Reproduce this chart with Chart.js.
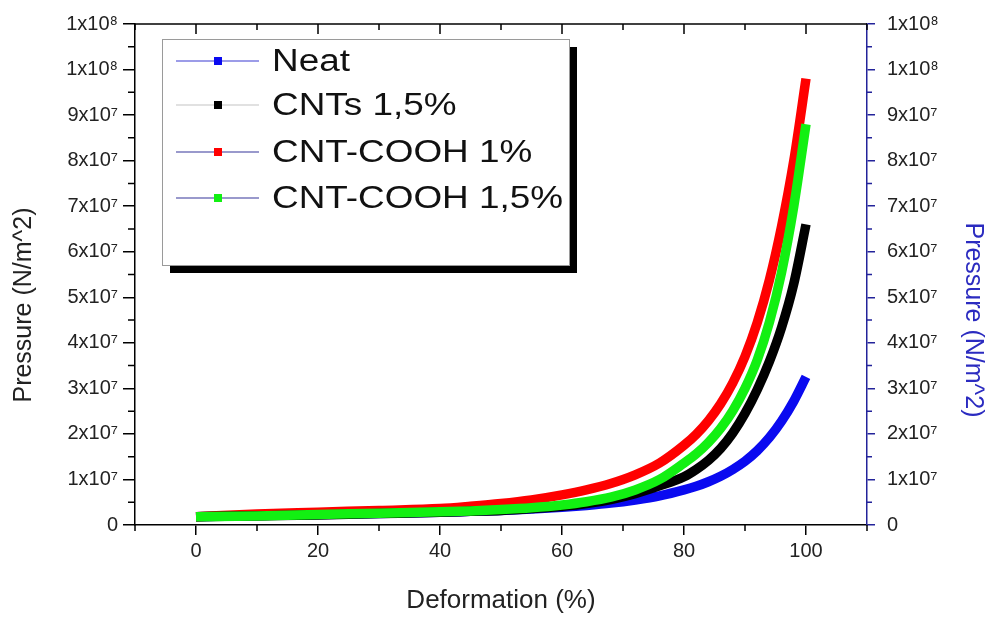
<!DOCTYPE html>
<html><head><meta charset="utf-8">
<script src="https://cdn.jsdelivr.net/npm/chart.js@4.4.1/dist/chart.umd.min.js"></script>
<style>html,body{margin:0;padding:0;background:#fff}canvas{display:block}</style>
</head><body>
<canvas id="c" width="988" height="619"></canvas>
<script>
// ---- data ----
const deformation = [0,10,20,30,40,45,50,55,60,64,68,72,76,80,82,84,86,88,90,92,94,96,98,100];
const neat   = [1.8e6,2.1e6,2.3e6,2.5e6,2.8e6,3.0e6,3.2e6,3.5e6,3.9e6,4.3e6,4.8e6,5.5e6,6.4e6,7.7e6,8.5e6,9.5e6,1.07e7,1.22e7,1.40e7,1.63e7,1.92e7,2.28e7,2.72e7,3.25e7];
const cnts15 = [1.8e6,2.0e6,2.2e6,2.5e6,2.8e6,3.0e6,3.2e6,3.6e6,4.1e6,4.7e6,5.6e6,6.9e6,8.6e6,1.06e7,1.22e7,1.42e7,1.68e7,2.02e7,2.45e7,2.97e7,3.59e7,4.34e7,5.30e7,6.60e7];
const cooh1  = [1.8e6,2.4e6,2.8e6,3.2e6,3.6e6,4.1e6,4.7e6,5.5e6,6.6e6,7.7e6,9.1e6,1.10e7,1.36e7,1.75e7,1.99e7,2.29e7,2.66e7,3.12e7,3.70e7,4.44e7,5.38e7,6.56e7,8.00e7,9.80e7];
const cooh15 = [1.8e6,2.0e6,2.3e6,2.6e6,2.9e6,3.1e6,3.4e6,3.8e6,4.4e6,5.1e6,6.1e6,7.7e6,1.00e7,1.36e7,1.56e7,1.81e7,2.12e7,2.51e7,3.00e7,3.62e7,4.45e7,5.55e7,7.00e7,8.80e7];
const seriesLabels = ['Neat','CNTs 1,5%','CNT-COOH 1%','CNT-COOH 1,5%'];
const seriesColors = ['#0a0af0','#000000','#ff0000','#12f012'];
const legendLineColors = ['#3a3ad2','#c4c4c4','#34349a','#34349a'];
const drawOrder = [3,1,2,0];

const xTickValues = [0,20,40,60,80,100];
const xTickLabels = ['0','20','40','60','80','100'];
const xMinorTicks = [-10,10,30,50,70,90,110];
const yTickValues = [0,1e7,2e7,3e7,4e7,5e7,6e7,7e7,8e7,9e7,1e8,1.1e8];
const yTickLabels = ['0','1x10⁷','2x10⁷','3x10⁷','4x10⁷','5x10⁷','6x10⁷','7x10⁷','8x10⁷','9x10⁷','1x10⁸','1x10⁸'];
const yMinorTicks = [5e6,1.5e7,2.5e7,3.5e7,4.5e7,5.5e7,6.5e7,7.5e7,8.5e7,9.5e7,1.05e8];
const xTitle = 'Deformation (%)';
const yTitle = 'Pressure (N/m^2)';

const FONT = "'Liberation Sans', Arial, sans-serif";
const NAVY = '#23239a';

const allSeries = [neat, cnts15, cooh1, cooh15];
const datasets = allSeries.map((arr, i) => ({
  label: seriesLabels[i],
  data: deformation.map((x, j) => ({x: x, y: arr[j]})),
  borderColor: seriesColors[i],
  backgroundColor: seriesColors[i],
  borderWidth: 9.5,
  borderCapStyle: 'butt',
  borderJoinStyle: 'round',
  pointRadius: 0,
  cubicInterpolationMode: 'monotone',
  fill: false,
  order: drawOrder[i],
  yAxisID: 'y'
}));

const labelFor = (vals, labs) => (v) => { const k = vals.indexOf(v); return k >= 0 ? labs[k] : ''; };

const decor = {
  id: 'decor',
  afterDraw(chart) {
    const {ctx, chartArea: a, scales: {x, y}} = chart;
    ctx.save();
    // top frame line + inward ticks
    ctx.strokeStyle = '#000'; ctx.lineWidth = 1.5;
    ctx.beginPath(); ctx.moveTo(a.left, a.top); ctx.lineTo(a.right, a.top); ctx.stroke();
    ctx.beginPath();
    xTickValues.forEach(v => { const px = x.getPixelForValue(v); ctx.moveTo(px, a.top); ctx.lineTo(px, a.top + 10); });
    xMinorTicks.forEach(v => { const px = x.getPixelForValue(v); ctx.moveTo(px, a.top); ctx.lineTo(px, a.top + 6); });
    // bottom minor ticks
    xMinorTicks.forEach(v => { const px = x.getPixelForValue(v); ctx.moveTo(px, a.bottom); ctx.lineTo(px, a.bottom + 6); });
    // left minor ticks
    yMinorTicks.forEach(v => { const py = y.getPixelForValue(v); ctx.moveTo(a.left, py); ctx.lineTo(a.left - 7, py); });
    ctx.stroke();
    // right minor ticks
    ctx.strokeStyle = NAVY;
    ctx.beginPath();
    yMinorTicks.forEach(v => { const py = y.getPixelForValue(v); ctx.moveTo(a.right, py); ctx.lineTo(a.right + 5, py); });
    ctx.stroke();

    // y titles
    ctx.font = '25px ' + FONT;
    ctx.textAlign = 'center'; ctx.textBaseline = 'middle';
    ctx.fillStyle = '#222';
    ctx.save(); ctx.translate(24, 305); ctx.rotate(-Math.PI / 2); ctx.fillText(yTitle, 0, 0); ctx.restore();
    ctx.fillStyle = '#2b2bc0';
    ctx.save(); ctx.translate(973, 320); ctx.rotate(Math.PI / 2); ctx.fillText(yTitle, 0, 0); ctx.restore();

    // legend box
    const L = a.left + 27, T = a.top + 15, W = 407, H = 226;
    ctx.fillStyle = '#000';
    ctx.fillRect(L + 8, T + 8, W, H);
    ctx.fillStyle = '#fff';
    ctx.fillRect(L, T, W, H);
    ctx.strokeStyle = '#9a9a9a'; ctx.lineWidth = 1;
    ctx.strokeRect(L + 0.5, T + 0.5, W, H);
    const rowY = [22, 66, 113, 159];
    chart.data.datasets.forEach((ds, i) => {
      const cy = T + rowY[i];
      ctx.strokeStyle = legendLineColors[i]; ctx.lineWidth = 1.2;
      ctx.beginPath(); ctx.moveTo(L + 14, cy); ctx.lineTo(L + 97, cy); ctx.stroke();
      ctx.fillStyle = ds.borderColor;
      ctx.fillRect(L + 52, cy - 4, 8, 8);
      ctx.fillStyle = '#111';
      ctx.font = '31px ' + FONT;
      ctx.textAlign = 'left'; ctx.textBaseline = 'middle';
      ctx.save(); ctx.translate(L + 110, cy + 1); ctx.scale(1.19, 1); ctx.fillText(ds.label, 0, 0); ctx.restore();
    });
    ctx.restore();
  }
};

new Chart(document.getElementById('c'), {
  type: 'line',
  data: { datasets: datasets },
  options: {
    responsive: false,
    animation: false,
    layout: { padding: { top: 22, left: 0, right: 0, bottom: 0 } },
    plugins: { legend: { display: false }, tooltip: { enabled: false } },
    scales: {
      x: {
        type: 'linear', min: -10, max: 110,
        afterBuildTicks: s => { s.ticks = xTickValues.map(v => ({value: v})); },
        ticks: { callback: labelFor(xTickValues, xTickLabels), font: { family: FONT, size: 20 }, color: '#222', padding: 4, maxRotation: 0, autoSkip: false },
        grid: { drawOnChartArea: false, drawTicks: true, tickLength: 10, color: '#000', lineWidth: 1.5 },
        border: { display: true, color: '#000', width: 1.5 },
        title: { display: true, text: xTitle, font: { family: FONT, size: 26 }, color: '#222', padding: { top: 0, bottom: 3 } },
        afterFit: s => { s.height = 94; }
      },
      y: {
        type: 'linear', position: 'left', min: 0, max: 1.1e8,
        afterBuildTicks: s => { s.ticks = yTickValues.map(v => ({value: v})); },
        ticks: { callback: labelFor(yTickValues, yTickLabels), font: { family: FONT, size: 20 }, color: '#222', padding: 5, autoSkip: false },
        grid: { drawOnChartArea: false, drawTicks: true, tickLength: 12, color: '#000', lineWidth: 1.5 },
        border: { display: true, color: '#000', width: 1.5 },
        afterFit: s => { s.width = 135; }
      },
      y2: {
        type: 'linear', position: 'right', min: 0, max: 1.1e8,
        afterBuildTicks: s => { s.ticks = yTickValues.map(v => ({value: v})); },
        ticks: { callback: labelFor(yTickValues, yTickLabels), font: { family: FONT, size: 20 }, color: '#222', padding: 12, autoSkip: false },
        grid: { drawOnChartArea: false, drawTicks: true, tickLength: 8, color: NAVY, lineWidth: 1.5 },
        border: { display: true, color: NAVY, width: 1.5 },
        afterFit: s => { s.width = 121; }
      }
    }
  },
  plugins: [decor]
});
</script>
</body></html>
